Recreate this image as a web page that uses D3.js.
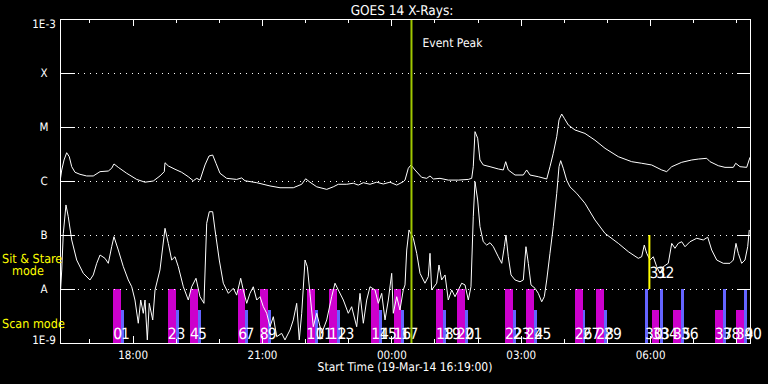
<!DOCTYPE html>
<html><head><meta charset="utf-8">
<script src="https://cdn.jsdelivr.net/npm/d3@7"></script>
<style>
html,body{margin:0;padding:0;background:#000;}
svg{display:block;background:#000;}
text{text-rendering:geometricPrecision;}
</style></head><body>
<svg id="chart" width="768" height="384"></svg>
<script>
// ---------- data ----------
const titleText = "GOES 14 X-Rays:";
const xAxisTitle = "Start Time (19-Mar-14 16:19:00)";
const startTime = new Date(2014, 2, 19, 16, 19, 0);
const endTime = new Date(2014, 2, 20, 8, 19, 0);
const fluxTicks = [1e-9, 1e-8, 1e-7, 1e-6, 1e-5, 1e-4, 1e-3];
const fluxTickLabels = ["1E-9", "A", "B", "C", "M", "X", "1E-3"];
const gridFlux = [1e-8, 1e-7, 1e-6, 1e-5, 1e-4];

// [minutes since start, flux W/m^2]
const longChannel = [[0,9.7e-7],[2.4,1.6e-6],[5.6,2.45e-6],[9.3,3.34e-6],[12.9,2.82e-6],[16.3,1.84e-6],[20.9,1.45e-6],[27.8,1.33e-6],[37.1,1.24e-6],[46.3,1.24e-6],[55.7,1.49e-6],[67.2,1.53e-6],[71.9,1.72e-6],[75.1,2.07e-6],[81.1,1.79e-6],[92.8,1.39e-6],[106.7,1.07e-6],[118.3,9.5e-7],[129.8,1.0e-6],[139.1,1.24e-6],[145.1,1.49e-6],[146.1,2.18e-6],[150.7,1.9e-6],[160,1.65e-6],[169.3,1.45e-6],[178.5,1.2e-6],[185.5,1.01e-6],[190.2,1.12e-6],[194.8,1.04e-6],[201.7,1.98e-6],[207.3,2.9e-6],[212.4,3.03e-6],[217,2.13e-6],[222.6,1.39e-6],[231.9,1.12e-6],[245.8,1.07e-6],[252.8,1.14e-6],[257.4,1.01e-6],[273.7,9.3e-7],[292.2,8.1e-7],[306.1,7.5e-7],[324.6,7.5e-7],[336.3,8.7e-7],[341.8,1.1e-6],[347.8,9.5e-7],[357.2,7.8e-7],[371.1,7.0e-7],[380.2,7.8e-7],[387.2,8.7e-7],[398.9,8.7e-7],[408.1,9.1e-7],[415,8.4e-7],[422,9.3e-7],[431.3,8.7e-7],[440.6,9.5e-7],[449.8,8.8e-7],[459.1,9.5e-7],[468.5,8.4e-7],[477.6,9.7e-7],[480,1.04e-6],[484.6,1.72e-6],[488.3,1.98e-6],[493.9,1.6e-6],[503.2,1.17e-6],[510.2,1.12e-6],[514.8,1.24e-6],[519.4,1.09e-6],[528.7,1.12e-6],[540.2,1.04e-6],[554.2,1.04e-6],[568.1,1.07e-6],[572.8,1.12e-6],[575,1.84e-6],[577.4,8.2e-6],[581.1,6.2e-6],[584.3,2.45e-6],[588.9,1.98e-6],[598.3,1.84e-6],[609.8,1.67e-6],[616.8,1.6e-6],[620.1,2.28e-6],[623.7,1.6e-6],[633.1,1.29e-6],[644.6,1.29e-6],[649.3,1.6e-6],[653.9,1.29e-6],[665.5,1.2e-6],[677.2,1.09e-6],[681.7,1.84e-6],[686.3,3.26e-6],[691.1,6.61e-6],[694.3,1.35e-5],[698,1.74e-5],[701.6,1.45e-5],[707.2,1.09e-5],[716.5,8.8e-6],[730.4,7.6e-6],[744.3,5.7e-6],[758.3,4.03e-6],[776.8,2.82e-6],[795.4,2.28e-6],[809.3,2.13e-6],[823.2,1.98e-6],[837.2,1.6e-6],[844.1,1.49e-6],[851.1,1.84e-6],[865,2.22e-6],[878.9,2.45e-6],[888.1,2.55e-6],[899.8,2.63e-6],[904.4,2.28e-6],[915.9,1.92e-6],[925.2,1.79e-6],[936.8,1.79e-6],[940.1,2.13e-6],[946.1,1.84e-6],[955.4,1.79e-6],[960,2.75e-6]];

const shortChannel = [[0,6.25e-9],[2.4,2.25e-8],[4.6,1.07e-7],[8.3,3.6e-7],[11.5,2.18e-7],[16.3,8.1e-8],[23.2,3.44e-8],[32.4,1.95e-8],[41.7,1.47e-8],[46.3,1.82e-8],[51.1,2.99e-8],[55.7,4.26e-8],[62.6,3.7e-8],[67.2,2.99e-8],[71.9,6.07e-8],[75.1,9.3e-8],[81.1,5.27e-8],[88.1,2.59e-8],[95,1.47e-8],[99.8,1.1e-8],[104.3,6.25e-9],[108.9,2.32e-9],[112.3,6.25e-9],[115.9,3.55e-9],[118.3,6.25e-9],[121.5,1.14e-9],[124.2,5.43e-9],[129,2.67e-9],[132.2,9.6e-9],[139.1,2.25e-8],[146.1,1.33e-7],[150.7,7.0e-8],[155.4,3.44e-8],[160,3.96e-8],[164.6,2.59e-8],[171.6,1.1e-8],[178.5,6.25e-9],[183.2,1.1e-8],[189.2,1.58e-8],[194.8,7.2e-9],[200.3,5.43e-9],[204.1,1.65e-7],[207.7,2.7e-7],[212.4,2.7e-7],[215.7,1.24e-7],[221.6,3.44e-8],[227.2,1.28e-8],[234.2,8.3e-9],[241.1,1.03e-8],[245.8,7.7e-9],[251.4,1.58e-8],[255,9.6e-9],[259.8,5.43e-9],[264.3,8.3e-9],[268.9,1.1e-8],[273.7,6.25e-9],[278.3,7.2e-9],[282.9,4.7e-9],[287.6,3.55e-9],[292.2,2.0e-9],[296.8,3.07e-9],[301.5,1.31e-9],[308.4,1.51e-9],[313,1.14e-9],[320,1.74e-9],[324.6,2.67e-9],[329.3,5.43e-9],[332.9,1.14e-9],[336.3,3.55e-9],[340.9,3.44e-8],[344.1,2.59e-8],[347.8,8.3e-9],[352.4,2.0e-9],[357.2,3.55e-9],[364.1,1.51e-9],[371.1,2.67e-9],[378,7.2e-9],[382.6,1.28e-8],[387.2,9.6e-9],[394.2,6.25e-9],[401.1,3.55e-9],[405.8,4.7e-9],[412.8,2.0e-9],[417.4,8.3e-9],[422,2.32e-9],[426.7,6.25e-9],[431.3,1.1e-8],[438.3,9.6e-9],[442.9,5.43e-9],[447.6,8.3e-9],[452.2,2.67e-9],[456.8,6.25e-9],[461.5,1.95e-8],[463.7,3.55e-9],[468.5,7.2e-9],[473,4.08e-9],[477.6,9.6e-9],[480,1.19e-8],[482.4,5.27e-8],[485.6,1.24e-7],[491.6,8.7e-8],[496.3,4.58e-8],[500.9,1.95e-8],[507.8,1.28e-8],[512.4,1.69e-8],[514.8,4.58e-8],[517.1,9.6e-9],[524.1,1.28e-8],[527.3,2.78e-8],[531,1.47e-8],[535.7,1.82e-8],[540.2,6.25e-9],[545,9.6e-9],[549.6,7.2e-9],[554.2,9.6e-9],[558.9,1.28e-8],[563.5,1.19e-8],[568.1,6.25e-9],[571.8,1.1e-8],[575,2.18e-7],[577.4,9.7e-7],[581.1,4.45e-7],[584.3,1.43e-7],[588.9,7.5e-8],[593.7,6.5e-8],[598.3,7.2e-8],[602.9,6.07e-8],[609.8,3.96e-8],[614.6,2.99e-8],[618.2,6.07e-8],[620.5,1.0e-7],[623.7,3.96e-8],[627.5,1.82e-8],[633.1,1.47e-8],[640,1.36e-8],[644.6,1.47e-8],[648.3,6.07e-8],[651.6,2.99e-8],[655.3,1.19e-8],[660.9,1.03e-8],[665.5,8.3e-9],[670.2,5.8e-9],[673.8,7.2e-9],[677.2,1.47e-8],[681.7,4.58e-8],[686.3,1.43e-7],[691.1,5.9e-7],[694.3,1.84e-6],[696.6,2.38e-6],[700.2,1.72e-6],[704.9,1.04e-6],[709.5,7.8e-7],[718.9,5.9e-7],[730.4,3.86e-7],[744.3,1.9e-7],[758.3,1.07e-7],[776.8,7.0e-8],[790.7,4.91e-8],[804.6,3.7e-8],[809.3,3.96e-8],[812.9,6.5e-8],[816.3,4.58e-8],[820.9,3.44e-8],[825.5,3.96e-8],[830.2,2.59e-8],[834.8,1.95e-8],[839.4,2.59e-8],[846.3,2.99e-8],[851.1,7.0e-8],[855.6,5.67e-8],[860.2,7.0e-8],[865,7.5e-8],[869.6,6.07e-8],[876.5,7.5e-8],[885.9,8.7e-8],[895,8.1e-8],[901.2,9.1e-8],[906.7,5.27e-8],[913.7,3.44e-8],[922.8,2.99e-8],[932.2,2.99e-8],[936.8,3.44e-8],[940.5,7.0e-8],[943.7,4.58e-8],[948.4,2.99e-8],[953,3.44e-8],[956.8,6.07e-8],[959,1.24e-7]];

// observing intervals: [start, end, top flux]
const magentaBars = [["17:33","17:44",1e-8],["18:49","19:01",1e-8],["19:20","19:31",1e-8],["20:27","20:37",1e-8],["20:57","21:08",1e-8],["22:02","22:14",1e-8],["22:33","22:44",1e-8],["23:32","23:43",1e-8],["00:03","00:13",1e-8],["01:02","01:12",1e-8],["01:31","01:42",1e-8],["02:38","02:49",1e-8],["03:07","03:18",1e-8],["04:15","04:26",1e-8],["04:45","04:56",1e-8],["06:03","06:13",4e-9],["06:32","06:43",4e-9],["07:30","07:41",4e-9],["07:59","08:10",4e-9]];
const blueBars = [["17:44","17:48",4e-9],["19:01","19:05",4e-9],["19:31","19:35",4e-9],["20:37","20:41",4e-9],["21:08","21:12",4e-9],["22:14","22:18",4e-9],["22:44","22:48",4e-9],["23:43","23:47",4e-9],["00:13","00:17",4e-9],["01:12","01:16",4e-9],["01:42","01:46",4e-9],["02:49","02:53",4e-9],["03:18","03:22",4e-9],["04:26","04:30",4e-9],["04:56","05:00",4e-9],["05:53","05:57",1e-8],["06:14","06:18",1e-8],["06:43","06:47",1e-8],["07:41","07:45",1e-8],["08:11","08:15",1e-8]];

// numbered observation labels 0..40
const labelTimes = ["17:33","17:44","18:49","19:01","19:20","19:31","20:27","20:37","20:57","21:08","22:02","22:14","22:33","22:44","23:32","23:43","00:03","00:13","01:02","01:12","01:31","01:42","02:38","02:49","03:07","03:18","04:15","04:26","04:45","04:56","05:53","05:59","06:09","06:03","06:14","06:32","06:43","07:30","07:41","07:59","08:11"];
const raisedLabels = [31, 32];
const eventPeakTime = "00:28";
const markerTime = "05:59";
const markerRange = [1e-8, 1e-7];

// ---------- helpers ----------
function clock(s) {
  const [h, m] = s.split(":").map(Number);
  return h >= 12 ? new Date(2014, 2, 19, h, m) : new Date(2014, 2, 20, h, m);
}
function fromMinutes(mn) { return new Date(startTime.getTime() + mn * 60000); }

// ---------- layout ----------
const L = 60, R = 750, T = 19, B = 343;
const svg = d3.select("#chart");
const FONT = "'DejaVu Sans Condensed','DejaVu Sans',sans-serif";

const x = d3.scaleTime().domain([startTime, endTime]).range([L, R]);
const y = d3.scaleLog().domain([1e-9, 1e-3]).range([B, T]);

svg.append("defs").append("clipPath").attr("id", "clip")
  .append("rect").attr("x", L).attr("y", T).attr("width", R - L).attr("height", B - T);

// bars
const barG = svg.append("g").attr("clip-path", "url(#clip)").attr("shape-rendering", "crispEdges");
barG.selectAll("rect.m").data(magentaBars).join("rect").attr("class", "m")
  .attr("x", d => x(clock(d[0]))).attr("width", d => x(clock(d[1])) - x(clock(d[0])))
  .attr("y", d => y(d[2])).attr("height", d => B - y(d[2])).attr("fill", "#cc00cc");
barG.selectAll("rect.b").data(blueBars).join("rect").attr("class", "b")
  .attr("x", d => x(clock(d[0]))).attr("width", d => x(clock(d[1])) - x(clock(d[0])))
  .attr("y", d => y(d[2])).attr("height", d => B - y(d[2])).attr("fill", "#6464ff");

// grid
svg.append("g").selectAll("line").data(gridFlux).join("line")
  .attr("x1", L + 18).attr("x2", R - 12).attr("y1", d => Math.round(y(d)) + 0.5).attr("y2", d => Math.round(y(d)) + 0.5)
  .attr("stroke", "#fff").attr("stroke-width", 1).attr("stroke-dasharray", "1 5");

// curves
const line = d3.line().x(d => x(fromMinutes(d[0]))).y(d => y(d[1]));
const curveG = svg.append("g").attr("clip-path", "url(#clip)");
curveG.append("path").attr("d", line(longChannel)).attr("fill", "none").attr("stroke", "#fff").attr("stroke-width", 1);
curveG.append("path").attr("d", line(shortChannel)).attr("fill", "none").attr("stroke", "#fff").attr("stroke-width", 1);

// numbered labels
svg.append("g").selectAll("text").data(labelTimes).join("text")
  .attr("x", d => x(clock(d)))
  .attr("y", (d, i) => raisedLabels.includes(i) ? 278 : 339)
  .attr("fill", "#fff").attr("font-family", FONT).attr("font-size", 15.5).attr("font-weight", 300)
  .text((d, i) => i);

// marker line (yellow)
svg.append("line").attr("x1", x(clock(markerTime))).attr("x2", x(clock(markerTime)))
  .attr("y1", y(markerRange[1])).attr("y2", y(markerRange[0]))
  .attr("stroke", "#ffff00").attr("stroke-width", 2);

// event peak
const ex = x(clock(eventPeakTime));
svg.append("line").attr("x1", ex).attr("x2", ex).attr("y1", T).attr("y2", B)
  .attr("stroke", "#a0c800").attr("stroke-width", 2);
svg.append("text").attr("x", ex + 11).attr("y", 47).attr("fill", "#fff")
  .attr("font-family", FONT).attr("font-size", 12).text("Event Peak");

// axes
function styleAxis(g) {
  g.select(".domain").remove();
  g.selectAll("line").attr("stroke", "#fff").attr("shape-rendering", "crispEdges");
  g.selectAll("text").attr("fill", "#fff").attr("font-family", FONT);
}
svg.append("g").attr("transform", `translate(0,${B})`)
  .call(d3.axisBottom(x).ticks(d3.timeHour.every(1)).tickSize(-4).tickFormat("")).call(styleAxis);
svg.append("g").attr("transform", `translate(0,${B})`)
  .call(d3.axisBottom(x).ticks(d3.timeHour.every(3)).tickSize(-7).tickPadding(8).tickFormat(d3.timeFormat("%H:%M")))
  .call(styleAxis).call(g => g.selectAll("text").attr("font-size", 11.5));
svg.append("g").attr("transform", `translate(0,${T})`)
  .call(d3.axisTop(x).ticks(d3.timeHour.every(1)).tickSize(-4).tickFormat("")).call(styleAxis);
svg.append("g").attr("transform", `translate(0,${T})`)
  .call(d3.axisTop(x).ticks(d3.timeHour.every(3)).tickSize(-7).tickFormat("")).call(styleAxis);
svg.append("g").attr("transform", `translate(${L},0)`)
  .call(d3.axisLeft(y).tickValues(fluxTicks).tickSize(-15).tickPadding(16).tickFormat((d, i) => fluxTickLabels[i]))
  .call(styleAxis)
  .call(g => g.selectAll("text").attr("font-size", 11.5).attr("text-anchor", "middle")
    .attr("dy", (d, i) => i === fluxTicks.length - 1 ? "0.72em" : (i === 0 ? "0" : "0.32em")));
svg.append("g").attr("transform", `translate(${R},0)`)
  .call(d3.axisRight(y).tickValues(fluxTicks).tickSize(-13).tickFormat("")).call(styleAxis);

// frame
svg.append("rect").attr("x", L + 0.5).attr("y", T + 0.5).attr("width", R - L).attr("height", B - T)
  .attr("fill", "none").attr("stroke", "#fff").attr("stroke-width", 1).attr("shape-rendering", "crispEdges");

// titles
svg.append("text").attr("x", 402).attr("y", 15).attr("text-anchor", "middle")
  .attr("fill", "#fff").attr("font-family", FONT).attr("font-size", 13.5).text(titleText);
svg.append("text").attr("x", 405).attr("y", 371).attr("text-anchor", "middle")
  .attr("fill", "#fff").attr("font-family", FONT).attr("font-size", 12).text(xAxisTitle);

// mode labels
const modeG = svg.append("g").attr("fill", "#ffff00").attr("font-family", FONT).attr("font-size", 12.5);
modeG.append("text").attr("x", 2).attr("y", 263).text("Sit & Stare");
modeG.append("text").attr("x", 12).attr("y", 275).text("mode");
modeG.append("text").attr("x", 2).attr("y", 328).text("Scan mode");
</script>
</body></html>
